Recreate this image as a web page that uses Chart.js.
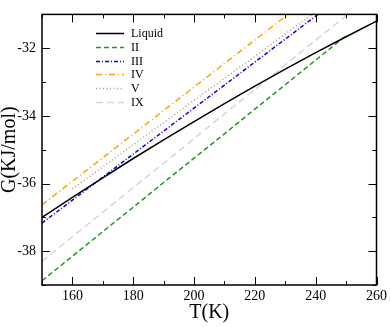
<!DOCTYPE html>
<html>
<head>
<meta charset="utf-8">
<script src="https://cdn.jsdelivr.net/npm/chart.js@4"></script>
<style>
  html, body { margin: 0; padding: 0; background: #fff; }
  #wrap { width: 390px; height: 327px; }
</style>
</head>
<body>
<div id="wrap"><canvas id="myChart" width="390" height="327"></canvas></div>
<script>
// temperatures (K) and free energies (KJ/mol)
const temps = [150, 160, 170, 180, 190, 200, 210, 220, 230, 240, 250, 260];
const liquid = [-37.00, -36.41, -35.83, -35.26, -34.71, -34.17, -33.64, -33.12, -32.62, -32.13, -31.66, -31.20];
const iceII = [-38.87, -38.15, -37.42, -36.70, -35.97, -35.25, -34.53, -33.80, -33.08, -32.35, -31.63, null];
const iceIII = [-37.17, -36.49, -35.81, -35.13, -34.45, -33.77, -33.09, -32.41, -31.73, -31.05, -30.37, null];
const iceIV = [-36.63, -35.93, -35.24, -34.54, -33.84, -33.15, -32.45, -31.76, -31.06, -30.36, null, null];
const iceV = [null, -36.16, -35.51, -34.85, -34.20, -33.54, -32.89, -32.24, -31.58, -30.93, null, null];
const iceIX = [-38.30, -37.57, -36.85, -36.12, -35.40, -34.67, -33.94, -33.22, -32.49, -31.76, -31.04, -30.31];

const xTicks = [160, 180, 200, 220, 240, 260];
const yTicks = [-32, -34, -36, -38];

const serif = "'Liberation Serif', 'DejaVu Serif', serif";

const toPoints = (vals) => temps.map((t, i) => ({ x: t, y: vals[i] })).filter(p => p.y !== null);

const makeSet = (label, vals, color, dash, width) => ({
  label: label,
  data: toPoints(vals),
  borderColor: color,
  backgroundColor: color,
  borderDash: dash,
  borderWidth: width,
  pointRadius: 0,
  tension: 0,
  fill: false
});

// frame with inward ticks on all four sides
const frameTicks = {
  id: 'frameTicks',
  afterDatasetsDraw(chart) {
    const { ctx, chartArea: a, scales: { x, y } } = chart;
    ctx.save();
    ctx.strokeStyle = '#000';
    ctx.lineWidth = 1.5;
    ctx.setLineDash([]);
    ctx.strokeRect(a.left, a.top, a.right - a.left, a.bottom - a.top);
    ctx.lineWidth = 1;
    ctx.beginPath();
    x.ticks.forEach(t => {
      const px = Math.round(x.getPixelForValue(t.value)) + 0.5;
      const len = xTicks.includes(t.value) ? 8 : 4;
      ctx.moveTo(px, a.bottom); ctx.lineTo(px, a.bottom - len);
      ctx.moveTo(px, a.top); ctx.lineTo(px, a.top + len);
    });
    y.ticks.forEach(t => {
      const py = Math.round(y.getPixelForValue(t.value)) + 0.5;
      const len = yTicks.includes(t.value) ? 8 : 4;
      ctx.moveTo(a.left, py); ctx.lineTo(a.left + len, py);
      ctx.moveTo(a.right, py); ctx.lineTo(a.right - len, py);
    });
    ctx.stroke();
    ctx.restore();
  }
};

// legend box inside the plot, top left
const insideLegend = {
  id: 'insideLegend',
  afterDraw(chart) {
    const ctx = chart.ctx;
    ctx.save();
    ctx.font = '12px ' + serif;
    ctx.textBaseline = 'middle';
    ctx.fillStyle = '#000';
    chart.data.datasets.forEach((ds, i) => {
      const rowY = Math.round(33 + i * 13.8) + 0.5;
      ctx.strokeStyle = ds.borderColor;
      ctx.lineWidth = ds.borderWidth;
      ctx.setLineDash(ds.borderDash);
      ctx.beginPath();
      ctx.moveTo(96, rowY);
      ctx.lineTo(124, rowY);
      ctx.stroke();
      ctx.fillText(ds.label, 131, rowY);
    });
    ctx.restore();
  }
};

const ctx = document.getElementById('myChart');
new Chart(ctx, {
  type: 'line',
  data: {
    datasets: [
      makeSet('Liquid', liquid, '#000000', [], 1.5),
      makeSet('II', iceII, '#1f9a1f', [5, 3], 1.5),
      makeSet('III', iceIII, '#0000ff', [4, 2, 1, 2], 1.5),
      makeSet('IV', iceIV, '#ffa500', [6, 3, 1, 3], 1.5),
      makeSet('V', iceV, '#bc8f8f', [1, 2.5], 1.5),
      makeSet('IX', iceIX, '#d6d6d6', [7, 4], 1.5)
    ]
  },
  options: {
    responsive: false,
    animation: false,
    layout: { padding: { top: 2, right: 11, left: 0, bottom: 0 } },
    plugins: {
      legend: { display: false },
      tooltip: { enabled: false }
    },
    scales: {
      x: {
        type: 'linear',
        min: 150,
        max: 260,
        afterFit: (scale) => { scale.height = 42; },
        grid: { display: false, drawTicks: false },
        border: { display: false },
        ticks: {
          stepSize: 10,
          autoSkip: false,
          maxRotation: 0,
          padding: 3,
          color: '#000',
          font: { family: serif, size: 14 },
          callback: (v) => xTicks.includes(v) ? String(v) : ''
        },
        title: {
          display: true,
          text: 'T(K)',
          color: '#000',
          font: { family: serif, size: 20, lineHeight: 1 },
          padding: { top: 0, bottom: 4 }
        }
      },
      y: {
        type: 'linear',
        min: -39,
        max: -31,
        afterFit: (scale) => { scale.width = 42; },
        grid: { display: false, drawTicks: false },
        border: { display: false },
        ticks: {
          stepSize: 1,
          autoSkip: false,
          padding: 6,
          color: '#000',
          font: { family: serif, size: 14 },
          callback: (v) => yTicks.includes(v) ? String(v) : ''
        },
        title: {
          display: true,
          text: 'G(KJ/mol)',
          color: '#000',
          font: { family: serif, size: 20, lineHeight: 1 },
          padding: { top: 0, bottom: 0 }
        }
      }
    }
  },
  plugins: [frameTicks, insideLegend]
});
</script>
</body>
</html>
